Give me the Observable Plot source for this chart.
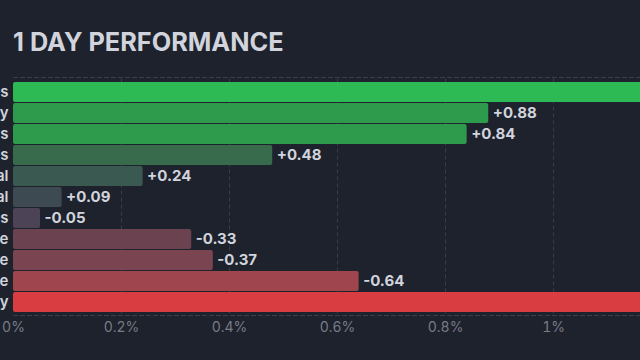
<!DOCTYPE html>
<html>
<head>
<meta charset="utf-8">
<script src="https://cdn.jsdelivr.net/npm/d3@7"></script>
<script src="https://cdn.jsdelivr.net/npm/@observablehq/plot@0.6"></script>
<style>
  html, body { margin: 0; padding: 0; background: #1e222d; overflow: hidden; }
  body { width: 640px; height: 360px; font-family: Inter, "Noto Sans", sans-serif; }
  #title { height: 70px; box-sizing: border-box; padding: 28.5px 0 0 13px; font-size: 25.3px; line-height: 26px; font-weight: 700; color: #d1d4dc; white-space: nowrap; }
  #chart svg { overflow: hidden; display: block; }
</style>
</head>
<body>
<div id="title">1 DAY PERFORMANCE</div>
<div id="chart"></div>
<script>
const sectors = ["Communication Services", "Technology", "Basic Materials", "Industrials", "Consumer Cyclical", "Financial", "Utilities", "Consumer Defensive", "Healthcare", "Real Estate", "Energy"];
const changes = [1.32, 0.88, 0.84, 0.48, 0.24, 0.09, -0.05, -0.33, -0.37, -0.64, -1.45];
const xTicks = [0, 0.2, 0.4, 0.6, 0.8, 1];

const data = sectors.map((s, i) => ({sector: s, change: changes[i], size: Math.abs(changes[i])}));
const fmt = v => (v > 0 ? "+" : "") + v.toFixed(2);

const chart = Plot.plot({
  width: 640,
  height: 290,
  marginTop: 8.5,
  marginBottom: 45,
  marginLeft: 13,
  marginRight: 0,
  style: {background: "#1e222d", fontFamily: "Inter, 'Noto Sans', sans-serif"},
  x: {domain: [0, 1.161], axis: null},
  y: {domain: sectors, paddingInner: 0.07, paddingOuter: 0.035, axis: null},
  color: {
    type: "threshold",
    domain: [-1, -0.5, -0.35, -0.1, 0, 0.1, 0.3, 0.5, 1],
    range: ["#d93c41", "#9e454d", "#7a4550", "#6b4350", "#4d4356", "#3d4a52", "#3a5950", "#376b4c", "#2e9a4c", "#2db954"]
  },
  marks: [
    Plot.gridX(xTicks.filter(t => t > 0), {stroke: "#3a3e4a", strokeOpacity: 1, strokeDasharray: "4,3"}),
    Plot.frame({anchor: "top", stroke: "#3a3e4a", strokeDasharray: "4,3", dy: -1.5}),
    Plot.frame({anchor: "bottom", stroke: "#3a3e4a", strokeDasharray: "4,3"}),
    Plot.barX(data, {x: "size", y: "sector", fill: "change", rx: 2, clip: true}),
    Plot.text(data, {x: "size", y: "sector", text: d => fmt(d.change), textAnchor: "start", dx: 4, fill: "#d1d4dc", fontSize: 15, fontWeight: 700, clip: true}),
    Plot.axisY({tickSize: 0, tickPadding: 5, fontSize: 15, fontWeight: 600, color: "#d1d4dc", label: null}),
    Plot.axisX({ticks: xTicks, tickSize: 0, tickPadding: 7, fontSize: 14, color: "#787b86", tickFormat: d => d3.format("~g")(d) + "%", label: null})
  ]
});
document.getElementById("chart").appendChild(chart);
</script>
</body>
</html>
